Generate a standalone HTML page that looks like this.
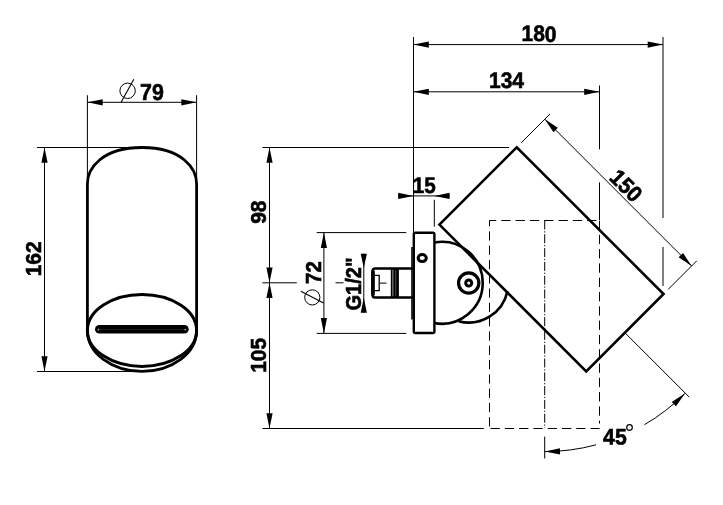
<!DOCTYPE html>
<html><head><meta charset="utf-8"><title>drawing</title>
<style>
html,body{margin:0;padding:0;background:#fff;}
svg{display:block;}
svg{filter:grayscale(1)}
text{font-family:"Liberation Sans",sans-serif;fill:#000;}
</style></head><body>
<svg width="723" height="505" viewBox="0 0 723 505">
<rect width="723" height="505" fill="#fff"/>
<path d="M87.4,330.4 L87.4,184.0 C87.4,168.67 101.60,147.5 142.0,147.5 C182.40,147.5 196.6,168.67 196.6,184.0 L196.6,330.4 A54.6,41 0 0 1 87.4,330.4" fill="none" stroke="#000" stroke-width="2.8"/>
<ellipse cx="142.0" cy="330.4" rx="54.6" ry="36" fill="none" stroke="#000" stroke-width="3.0"/>
<rect x="95" y="325" width="93.7" height="8.6" rx="4.3" fill="#000"/>
<line x1="99" y1="329.5" x2="184.7" y2="329.5" stroke="#1e1e1e" stroke-width="0.9"/>
<circle cx="98.4" cy="329.6" r="0.9" fill="#aaa"/><circle cx="185.3" cy="329.6" r="0.9" fill="#aaa"/>
<line x1="87.40" y1="95.20" x2="87.40" y2="181.50" stroke="#000" stroke-width="1.0" />
<line x1="196.60" y1="95.20" x2="196.60" y2="181.50" stroke="#000" stroke-width="1.0" />
<line x1="87.40" y1="102.30" x2="196.60" y2="102.30" stroke="#000" stroke-width="1.0" />
<polygon points="87.40,102.30 102.70,99.20 102.70,105.40" fill="#000"/>
<polygon points="196.60,102.30 181.30,105.40 181.30,99.20" fill="#000"/>
<text x="152.00" y="99.20" dy="0.5" stroke="#000" stroke-width="0.6" font-size="23" font-weight="bold" text-anchor="middle" transform="rotate(0.03 152.00 99.20)" textLength="23.8" lengthAdjust="spacingAndGlyphs">79</text>
<circle cx="127.6" cy="90.8" r="7.7" fill="none" stroke="#000" stroke-width="1.0"/>
<line x1="121.10" y1="102.30" x2="133.80" y2="79.20" stroke="#000" stroke-width="1.1" />
<line x1="36.90" y1="147.50" x2="134.00" y2="147.50" stroke="#000" stroke-width="1.0" />
<line x1="36.90" y1="371.50" x2="134.00" y2="371.50" stroke="#000" stroke-width="1.0" />
<line x1="44.50" y1="147.50" x2="44.50" y2="371.50" stroke="#000" stroke-width="1.0" />
<polygon points="44.50,147.50 47.60,162.80 41.40,162.80" fill="#000"/>
<polygon points="44.50,371.50 41.40,356.20 47.60,356.20" fill="#000"/>
<text x="40.60" y="258.80" dy="0.5" stroke="#000" stroke-width="0.6" font-size="22.5" font-weight="bold" text-anchor="middle" transform="rotate(-90 40.60 258.80)" textLength="35" lengthAdjust="spacingAndGlyphs">162</text>
<line x1="413.50" y1="37.00" x2="413.50" y2="232.50" stroke="#000" stroke-width="1.0" />
<line x1="663.00" y1="37.00" x2="663.00" y2="218.00" stroke="#000" stroke-width="1.0" />
<line x1="663.00" y1="247.00" x2="663.00" y2="286.00" stroke="#000" stroke-width="1.0" />
<line x1="413.50" y1="44.60" x2="663.00" y2="44.60" stroke="#000" stroke-width="1.0" />
<polygon points="413.50,44.60 428.80,41.50 428.80,47.70" fill="#000"/>
<polygon points="663.00,44.60 647.70,47.70 647.70,41.50" fill="#000"/>
<text x="539.00" y="41.00" dy="0.5" stroke="#000" stroke-width="0.6" font-size="22.5" font-weight="bold" text-anchor="middle" transform="rotate(0.03 539.00 41.00)" textLength="35" lengthAdjust="spacingAndGlyphs">180</text>
<line x1="599.50" y1="85.50" x2="599.50" y2="149.30" stroke="#000" stroke-width="1.0" />
<line x1="599.50" y1="182.40" x2="599.50" y2="220.00" stroke="#000" stroke-width="1.0" />
<line x1="413.50" y1="91.80" x2="599.50" y2="91.80" stroke="#000" stroke-width="1.0" />
<polygon points="413.50,91.80 428.80,88.70 428.80,94.90" fill="#000"/>
<polygon points="599.50,91.80 584.20,94.90 584.20,88.70" fill="#000"/>
<text x="506.50" y="87.50" dy="0.5" stroke="#000" stroke-width="0.6" font-size="22.5" font-weight="bold" text-anchor="middle" transform="rotate(0.03 506.50 87.50)" textLength="35" lengthAdjust="spacingAndGlyphs">134</text>
<line x1="434.30" y1="199.80" x2="434.30" y2="226.70" stroke="#000" stroke-width="1.0" />
<line x1="397.90" y1="195.90" x2="449.60" y2="195.90" stroke="#000" stroke-width="1.0" />
<polygon points="413.50,195.90 398.20,199.00 398.20,192.80" fill="#000"/>
<polygon points="434.30,195.90 449.60,192.80 449.60,199.00" fill="#000"/>
<text x="424.30" y="192.40" dy="0.5" stroke="#000" stroke-width="0.6" font-size="22.5" font-weight="bold" text-anchor="middle" transform="rotate(0.03 424.30 192.40)" textLength="23" lengthAdjust="spacingAndGlyphs">15</text>
<line x1="262.40" y1="147.50" x2="509.00" y2="147.50" stroke="#000" stroke-width="1.0" />
<line x1="262.40" y1="282.80" x2="296.80" y2="282.80" stroke="#000" stroke-width="1.0" />
<line x1="262.40" y1="428.50" x2="483.80" y2="428.50" stroke="#000" stroke-width="1.0" />
<line x1="269.50" y1="147.50" x2="269.50" y2="428.50" stroke="#000" stroke-width="1.0" />
<polygon points="269.50,147.50 272.60,162.80 266.40,162.80" fill="#000"/>
<polygon points="269.50,282.80 266.40,267.50 272.60,267.50" fill="#000"/>
<polygon points="269.50,282.80 272.60,298.10 266.40,298.10" fill="#000"/>
<polygon points="269.50,428.50 266.40,413.20 272.60,413.20" fill="#000"/>
<text x="265.40" y="212.20" dy="0.5" stroke="#000" stroke-width="0.6" font-size="22.5" font-weight="bold" text-anchor="middle" transform="rotate(-90 265.40 212.20)" textLength="23.3" lengthAdjust="spacingAndGlyphs">98</text>
<text x="265.50" y="355.30" dy="0.5" stroke="#000" stroke-width="0.6" font-size="22.5" font-weight="bold" text-anchor="middle" transform="rotate(-90 265.50 355.30)" textLength="35" lengthAdjust="spacingAndGlyphs">105</text>
<line x1="316.70" y1="232.60" x2="406.30" y2="232.60" stroke="#000" stroke-width="1.0" />
<line x1="316.70" y1="333.40" x2="406.30" y2="333.40" stroke="#000" stroke-width="1.0" />
<line x1="323.90" y1="232.60" x2="323.90" y2="333.40" stroke="#000" stroke-width="1.0" />
<polygon points="323.90,232.60 327.00,247.90 320.80,247.90" fill="#000"/>
<polygon points="323.90,333.40 320.80,318.10 327.00,318.10" fill="#000"/>
<text x="320.30" y="272.60" dy="0.5" stroke="#000" stroke-width="0.6" font-size="22.5" font-weight="bold" text-anchor="middle" transform="rotate(-90 320.30 272.60)" textLength="22.8" lengthAdjust="spacingAndGlyphs">72</text>
<circle cx="312.3" cy="297.4" r="7.6" fill="none" stroke="#000" stroke-width="1.0"/>
<line x1="300.80" y1="291.20" x2="323.60" y2="303.10" stroke="#000" stroke-width="1.1" />
<line x1="363.80" y1="253.70" x2="363.80" y2="312.70" stroke="#000" stroke-width="1.0" />
<polygon points="363.80,268.00 360.70,253.70 366.90,253.70" fill="#000"/>
<polygon points="363.80,297.80 366.90,312.70 360.70,312.70" fill="#000"/>
<text x="360.70" y="284.00" dy="0.5" stroke="#000" stroke-width="0.6" font-size="22.5" font-weight="bold" text-anchor="middle" transform="rotate(-90 360.70 284.00)" textLength="53" lengthAdjust="spacingAndGlyphs">G1/2&quot;</text>
<line x1="335.50" y1="282.80" x2="343.50" y2="282.80" stroke="#000" stroke-width="1.0" />
<line x1="380.00" y1="283.10" x2="386.50" y2="283.10" stroke="#000" stroke-width="1.0" />
<path d="M413.5,268.4 L375.2,268.4 Q372.6,268.4 372.6,271 L372.6,295 Q372.6,297.6 375.2,297.6 L413.5,297.6" fill="none" stroke="#000" stroke-width="2.5"/>
<line x1="373.00" y1="270.60" x2="373.00" y2="295.40" stroke="#000" stroke-width="3.7" />
<rect x="390.8" y="268.4" width="8.1" height="29.2" fill="#000"/>
<line x1="392.85" y1="269.8" x2="392.85" y2="296.2" stroke="#9a9a9a" stroke-width="1.0"/>
<line x1="395.75" y1="270.2" x2="395.75" y2="295.8" stroke="#5a5a5a" stroke-width="0.8"/>
<path d="M374,275.4 L379.2,275.4 L379.2,290.6 L374,290.6" fill="none" stroke="#000" stroke-width="1.3"/>
<rect x="413.8" y="232.8" width="20.6" height="100.2" rx="1.5" fill="#fff" stroke="#000" stroke-width="2.4"/>
<ellipse cx="422.2" cy="258.1" rx="4.1" ry="3.5" fill="none" stroke="#000" stroke-width="3.0"/>
<line x1="412.00" y1="247.00" x2="412.00" y2="319.50" stroke="#000" stroke-width="1.6" />
<path d="M434.4,242.46 A41.0,41.0 0 1 1 434.4,323.14" fill="none" stroke="#000" stroke-width="2.6"/>
<circle cx="468.7" cy="282.95" r="10.15" fill="none" stroke="#000" stroke-width="3.2"/>
<circle cx="468.7" cy="282.95" r="3.0" fill="none" stroke="#000" stroke-width="3.0"/>
<path d="M507.49,290.94 A39.6,39.6 0 0 1 458.48,321.21" fill="none" stroke="#000" stroke-width="2.6"/>
<polygon points="439.40,224.60 516.76,147.24 663.55,294.04 586.20,371.40" fill="none" stroke="#000" stroke-width="2.6" stroke-linejoin="miter"/>
<line x1="521.35" y1="142.65" x2="549.99" y2="114.01" stroke="#000" stroke-width="1.0" />
<line x1="668.15" y1="289.44" x2="696.79" y2="260.80" stroke="#000" stroke-width="1.0" />
<line x1="544.83" y1="119.17" x2="691.62" y2="265.97" stroke="#000" stroke-width="1.0" />
<polygon points="544.83,119.17 557.84,127.80 553.46,132.18" fill="#000"/>
<polygon points="691.62,265.97 678.61,257.34 683.00,252.95" fill="#000"/>
<text x="621.06" y="190.87" dy="0.5" stroke="#000" stroke-width="0.6" font-size="22.5" font-weight="bold" text-anchor="middle" transform="rotate(45 621.06 190.87)" textLength="35" lengthAdjust="spacingAndGlyphs">150</text>
<line x1="624.87" y1="332.72" x2="689.22" y2="397.06" stroke="#000" stroke-width="1.0" />
<line x1="489.50" y1="220.50" x2="599.50" y2="220.50" stroke="#000" stroke-width="1.0" stroke-dasharray="9.3 5" stroke-dashoffset="2.5"/>
<line x1="489.50" y1="428.50" x2="599.50" y2="428.50" stroke="#000" stroke-width="1.0" stroke-dasharray="9.3 5" stroke-dashoffset="-1"/>
<line x1="489.50" y1="220.50" x2="489.50" y2="428.50" stroke="#000" stroke-width="1.0" stroke-dasharray="9.3 5" stroke-dashoffset="3.5"/>
<line x1="599.50" y1="220.50" x2="599.50" y2="423.50" stroke="#000" stroke-width="1.0" stroke-dasharray="9.3 5" stroke-dashoffset="0"/>
<line x1="544.70" y1="220.50" x2="544.70" y2="428.00" stroke="#000" stroke-width="1.0" stroke-dasharray="9 1.8 1.2 1.8"/>
<line x1="544.70" y1="436.60" x2="544.70" y2="458.50" stroke="#000" stroke-width="1.0" />
<path d="M544.70,451.60 A198.3,198.3 0 0 0 596.02,444.84" fill="none" stroke="#000" stroke-width="1.0"/>
<path d="M644.45,424.69 A198.3,198.3 0 0 0 684.92,393.52" fill="none" stroke="#000" stroke-width="1.0"/>
<polygon points="544.70,451.60 559.94,448.21 560.06,454.41" fill="#000"/>
<polygon points="684.92,393.52 676.04,406.36 671.75,401.89" fill="#000"/>
<text x="614.90" y="444.10" dy="0.5" stroke="#000" stroke-width="0.6" font-size="22.5" font-weight="bold" text-anchor="middle" transform="rotate(0.03 614.90 444.10)" textLength="23.6" lengthAdjust="spacingAndGlyphs">45</text>
<circle cx="629.5" cy="427.5" r="2.8" fill="none" stroke="#000" stroke-width="1.2"/>
</svg>
</body></html>
